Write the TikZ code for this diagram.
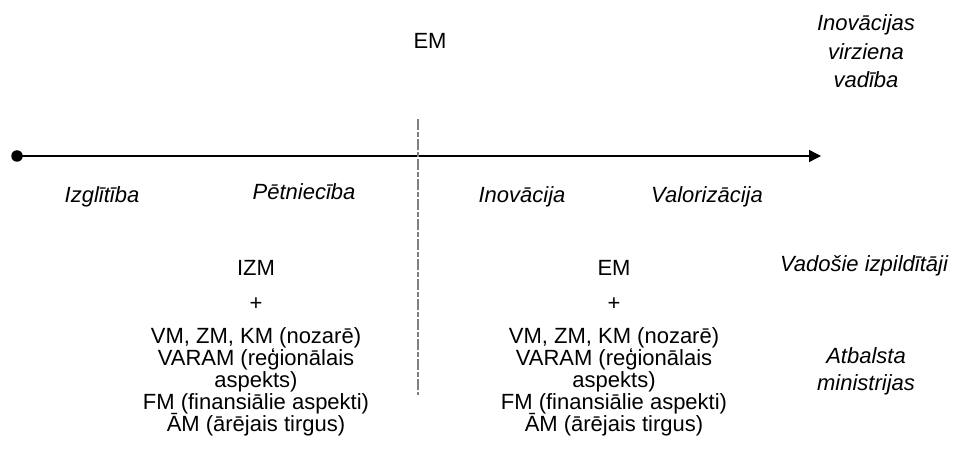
\documentclass[tikz,border=0pt]{standalone}
\usepackage{fontspec}
\setmainfont{Liberation Sans}
\usetikzlibrary{arrows.meta}
\tikzset{
  txt/.style={inner sep=0pt, anchor=base, font=\fontsize{22}{22.3}\selectfont},
  itxt/.style={txt, font=\fontsize{22}{22.3}\selectfont\itshape},
  axis/.style={line width=1.4pt, -{Triangle[length=12pt,width=12pt]}},
  divider/.style={line width=1.6pt, draw=black!50, dash pattern=on 11pt off 2pt on 5pt off 2pt},
  dot/.style={circle, fill=black, inner sep=0pt, minimum size=11.5pt}
}
\begin{document}
\begin{tikzpicture}[x=1pt,y=-1pt]
\useasboundingbox (0,0) rectangle (957,462);
% axis
\node[dot] (start) at (17,156) {};
\coordinate (end) at (821,156);
\draw[axis] (start.center) -- (end);
% divider
\coordinate (dtop) at (418,119);
\coordinate (dbot) at (418,395);
\draw[divider] (dtop) -- (dbot);
% top
\node[txt] (emtop) at (430,49) {EM};
\node[itxt] (iv1) at (866,31) {Inovācijas};
\node[itxt] (iv2) at (866,60) {virziena};
\node[itxt] (iv3) at (866,88) {vadība};
% stages
\node[itxt] (s1) at (102,203) {Izglītība};
\node[itxt] (s2) at (304,200) {Pētniecība};
\node[itxt] (s3) at (522,203) {Inovācija};
\node[itxt] (s4) at (707,203) {Valorizācija};
% left block
\node[txt] (lh) at (256,275) {IZM};
\node[txt] (lp) at (256,310) {+};
\node[txt] (l1) at (256,343) {VM, ZM, KM (nozarē)};
\node[txt] (l2) at (256,365) {VARAM (reģionālais};
\node[txt] (l3) at (256,387) {aspekts)};
\node[txt] (l4) at (256,409) {FM (finansiālie aspekti)};
\node[txt] (l5) at (256,431) {ĀM (ārējais tirgus)};
% right block
\node[txt] (rh) at (614,275) {EM};
\node[txt] (rp) at (614,310) {+};
\node[txt] (r1) at (614,343) {VM, ZM, KM (nozarē)};
\node[txt] (r2) at (614,365) {VARAM (reģionālais};
\node[txt] (r3) at (614,387) {aspekts)};
\node[txt] (r4) at (614,409) {FM (finansiālie aspekti)};
\node[txt] (r5) at (614,431) {ĀM (ārējais tirgus)};
% right labels
\node[itxt] (vad) at (864,271) {Vadošie izpildītāji};
\node[itxt] (at1) at (866,363) {Atbalsta};
\node[itxt] (at2) at (866,390) {ministrijas};
\end{tikzpicture}
\end{document}
